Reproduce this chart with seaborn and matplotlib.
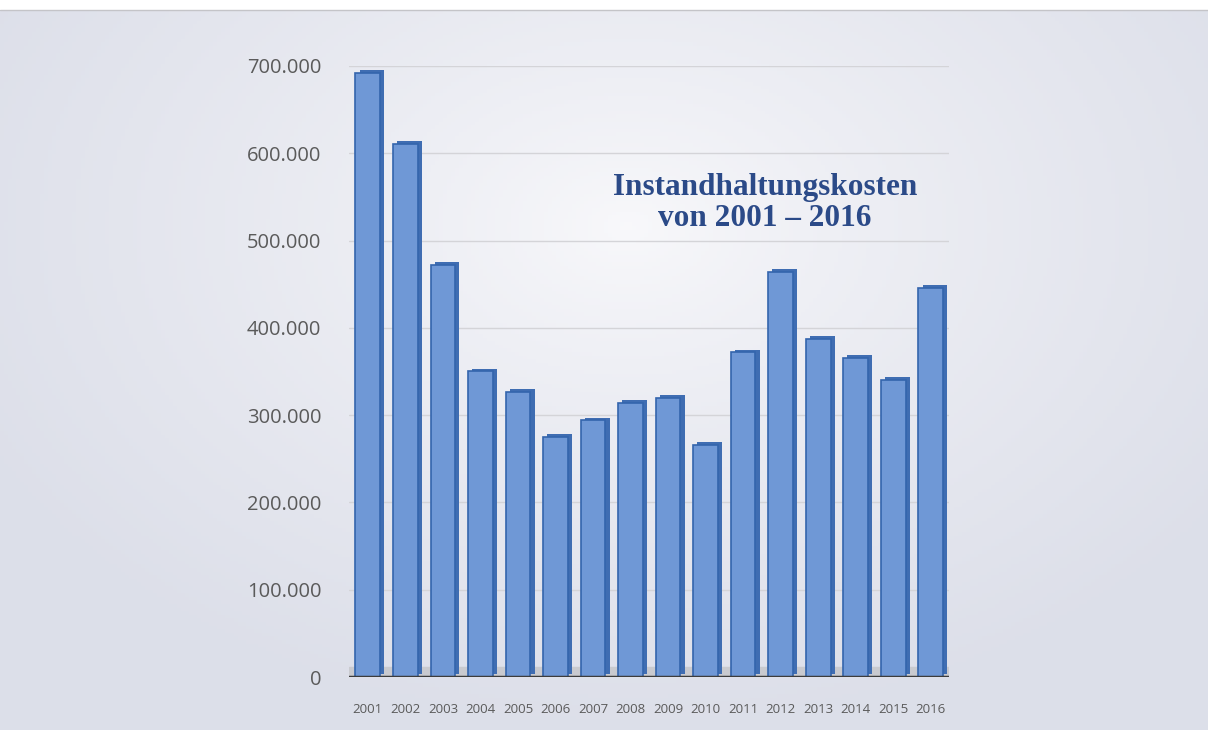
import numpy as np
import matplotlib
matplotlib.use("Agg")
import matplotlib.pyplot as plt
import matplotlib.patheffects as pe
from matplotlib.ticker import FuncFormatter
import pandas as pd
import seaborn as sns

years = [str(y) for y in range(2001, 2017)]
kosten = [692000, 611000, 472000, 350000, 327000, 275000, 294000, 314000,
          320000, 266000, 372000, 464000, 387000, 366000, 340000, 446000]
yticks = [0, 100000, 200000, 300000, 400000, 500000, 600000, 700000]
titel = "Instandhaltungskosten\nvon 2001 – 2016"

df = pd.DataFrame({"Jahr": years, "Kosten": kosten})

sns.set_style("white")
plt.rcParams['font.family'] = ['Open Sans', 'DejaVu Sans']

fig = plt.figure(figsize=(12.08, 7.30), dpi=100)
fig.patch.set_facecolor("white")

# soft background like the slide
bg = fig.add_axes([0, 0, 1, 0.986])
yy, xx = np.mgrid[0:1:200j, 0:1:300j]
r = np.sqrt(((xx - 0.52) / 0.6) ** 2 + ((yy - 0.7) / 0.7) ** 2)
r = np.clip(r, 0, 1) ** 0.8
c0 = np.array([0.975, 0.975, 0.985])
c1 = np.array([0.865, 0.875, 0.915])
img = c0[None, None, :] * (1 - r[..., None]) + c1[None, None, :] * r[..., None]
bg.imshow(img, aspect="auto", extent=[0, 1, 0, 1], origin="lower")
bg.axis("off")
fig.add_artist(plt.Line2D([0, 1], [0.986, 0.986], color="#c4c4c8", lw=1))

ax = fig.add_axes([0.289, 0.0726, 0.497, 0.837])
ax.set_facecolor("none")
ax.axhspan(0, 12000, color="#c9cacf", zorder=0)
sns.barplot(data=df, x="Jahr", y="Kosten", color="#6f98d6", width=0.66,
            edgecolor="#3465ad", linewidth=1.2, saturation=1, ax=ax, zorder=3)
for p in ax.containers[0]:
    p.set_path_effects([pe.SimplePatchShadow(offset=(3.0, 2.0), shadow_rgbFace="#3f6db2", alpha=1.0),
                        pe.Normal()])

ax.set_ylim(0, 700000)
ax.set_xlim(-0.5, 15.5)
ax.set_yticks(yticks)
ax.yaxis.set_major_formatter(FuncFormatter(lambda v, _: f"{int(v):,}".replace(",", ".")))
ax.yaxis.grid(True, color="#d4d4d8", lw=1)
ax.set_axisbelow(True)
ax.axhline(0, color="#3c3c3c", lw=2.5, zorder=4)
sns.despine(ax=ax, left=True, bottom=True)
ax.set_xlabel("")
ax.set_ylabel("")
ax.tick_params(axis="y", length=0, pad=20, labelsize=14.5, labelcolor="#5a5a5a")
ax.tick_params(axis="x", length=0, pad=19, labelsize=9.5, labelcolor="#5a5a5a")

ax.text(0.693, 0.776, titel, transform=ax.transAxes, ha="center", va="center",
        family="Liberation Serif", fontweight="bold", fontsize=22.5, color="#2b4a88",
        linespacing=1.12, zorder=5)

fig.savefig("out.png", dpi=100)
